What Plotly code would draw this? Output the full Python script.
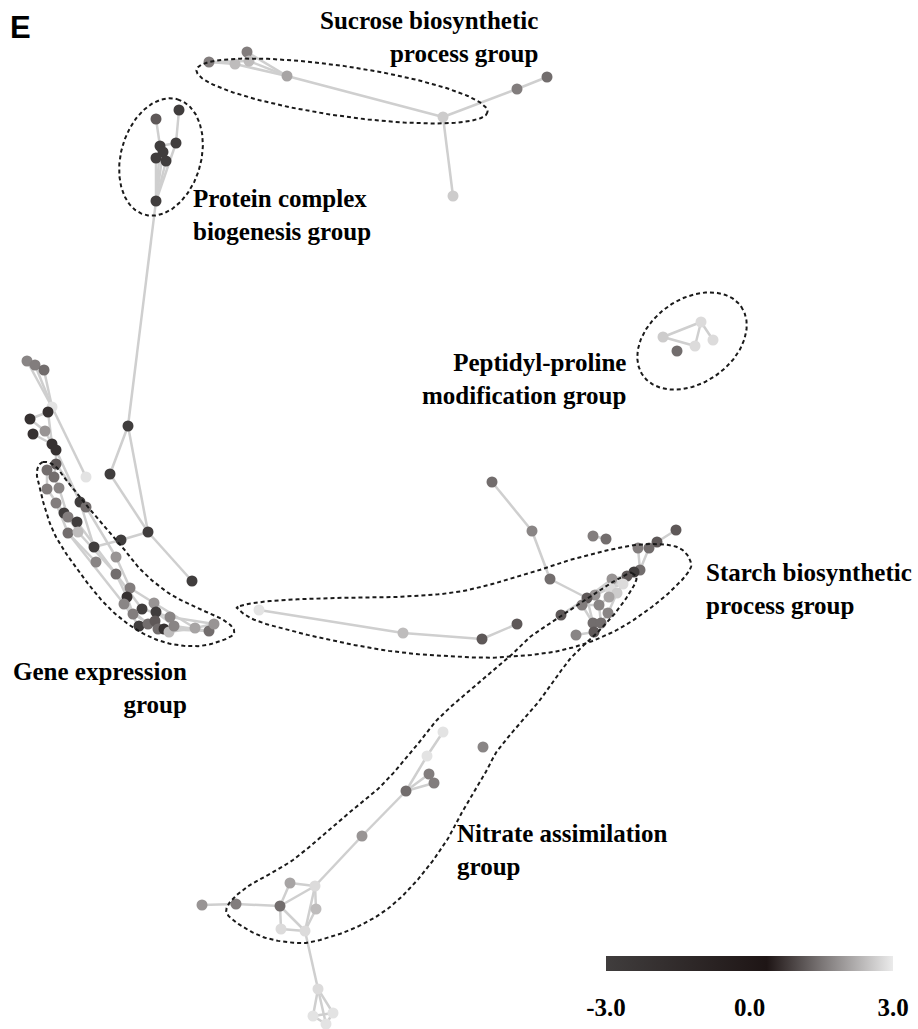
import numpy as np
import plotly.graph_objects as go

# ---------------- data ----------------
node_id = [
    # sucrose biosynthetic process group
    "s1", "s2", "s3", "s4", "s5", "s6", "s7", "s8", "s9",
    # protein complex biogenesis group
    "p1", "p2", "p3", "p4", "p5", "p6", "p7", "p8",
    # connector
    "c1", "c2", "c3", "c4", "c5", "c6",
    # gene expression group
    "g1", "g2", "g3", "g4", "g5", "g6", "g7", "g8", "g9", "g10",
    "g11", "g12", "g13", "g14", "g15", "g16", "g17", "g18", "g19", "g20",
    "g21", "g22", "g23", "g24", "g25", "g26", "g27", "g28", "g29", "g30",
    "g31", "g32", "g33", "g34", "g35", "g36", "g37", "g38", "g39", "g40",
    "g41", "g42", "g43", "g44", "g45",
    # starch biosynthetic process group
    "t1", "t2", "t3", "t4", "t5", "t6", "t7", "t8", "t9", "t10",
    "t11", "t12", "t13", "t14", "t15", "t16", "t17", "t18", "t19", "t20",
    "t21", "t22", "t23", "t24", "t25", "t26", "t27", "t28", "t29", "t30", "t31",
    # peptidyl-proline modification group
    "q1", "q2", "q3", "q4", "q5",
    # nitrate assimilation group
    "n1", "n2", "n3", "n4", "n5", "n6", "n7", "n8", "n9", "n10",
    "n11", "n12", "n13", "n14", "n15", "n16", "n17", "n18", "n19",
]

node_x = [
    209, 235, 247, 249, 287, 443, 517, 547, 453,
    179, 156, 160, 176, 163, 156, 166, 156,
    128, 110, 148, 192, 121, 94,
    27, 35, 44, 52, 48, 30, 45, 33, 52, 56,
    56, 86, 47, 54, 47, 59, 56, 80, 86, 64,
    68, 77, 68, 78, 96, 116, 116, 130, 127, 124,
    142, 133, 154, 156, 170, 139, 148, 155, 158, 164,
    169, 174, 195, 209, 214,
    492, 532, 550, 593, 606, 676, 657, 649, 638, 640,
    634, 627, 612, 623, 610, 617, 595, 587, 609, 582,
    599, 608, 561, 593, 601, 594, 576, 517, 482, 403, 259,
    663, 701, 695, 713, 677,
    443, 427, 429, 434, 406, 362, 483, 315, 290, 280,
    236, 202, 316, 281, 305, 318, 313, 333, 326,
]

node_y = [
    62, 64, 52, 61, 76, 117, 89, 77, 196,
    110, 119, 146, 143, 152, 158, 161, 201,
    426, 474, 532, 581, 540, 547,
    361, 365, 370, 407, 412, 419, 431, 434, 444, 450,
    464, 477, 470, 477, 489, 488, 503, 502, 507, 513,
    517, 522, 533, 532, 562, 557, 574, 588, 597, 604,
    609, 614, 603, 612, 617, 626, 624, 621, 629, 629,
    632, 626, 628, 631, 624,
    482, 531, 579, 536, 539, 530, 542, 548, 548, 570,
    572, 576, 579, 584, 588, 593, 595, 598, 597, 605,
    605, 613, 615, 623, 623, 632, 635, 624, 639, 633, 610,
    337, 322, 346, 340, 351,
    732, 756, 774, 783, 791, 836, 747, 886, 883, 906,
    904, 905, 909, 929, 931, 989, 1016, 1013, 1024,
]

node_value = [
    1.6, 2.4, 1.6, 2.4, 2.1, 2.6, 1.6, 1.4, 2.6,
    -3.0, 1.15, -3.0, -3.0, -3.0, -3.0, -3.0, -3.0,
    -3.0, -3.0, -3.0, -3.0, -3.0, -3.0,
    1.7, 1.6, 1.4, 2.9, -2.0, -2.0, 1.9, -2.0, -2.0, -2.0,
    1.15, 2.9, 1.4, 1.4, 1.6, 1.7, 1.6, -3.0, 1.4, -3.0,
    1.6, -3.0, 1.4, 2.4, 1.7, 1.9, 1.4, 1.6, -2.0, 1.7,
    -3.0, 1.6, 1.9, -3.0, 1.7, -3.0, 1.4, 1.15, 1.4, -2.0,
    2.4, 1.7, 2.1, 1.4, 1.9,
    1.4, 1.7, 1.4, 1.6, 1.4, 1.15, 1.15, 1.4, 1.6, 1.4,
    -3.0, 1.15, 1.9, 2.8, 2.8, 2.6, 1.9, 1.15, 2.1, 1.6,
    1.7, 1.7, 1.15, 1.4, 1.4, 1.15, 1.7, 1.15, 1.15, 2.4, 2.9,
    2.6, 2.8, 2.8, 2.8, 1.4,
    2.9, 2.9, 1.6, 1.6, 1.4, 1.9, 1.7, 2.8, 2.1, 1.4,
    1.6, 1.9, 2.4, 2.8, 2.8, 2.8, 2.9, 2.9, 2.9,
]

edge_src = [
    "s1", "s2", "s3", "s4", "s1", "s5", "s6", "s7", "s6",
    "p1", "p4", "p2", "p3", "p3", "p5", "p6", "p7",
    "p8", "c1", "c1", "c2", "c3", "c3", "c5",
    "g1", "g2", "g3", "g4", "g4", "g5", "g5", "g6", "g7", "g8", "g9", "g10",
    "g10", "g18",
    "g11", "g19", "g26", "g28", "g33", "g43",
    "g13", "g15", "g20", "g22", "g27", "g31", "g35",
    "g14", "g16", "g21", "g24",
    "g17", "g23", "g30", "g23",
    "g29", "g32", "g39",
    "g30", "g37", "g40",
    "g34", "g42", "g38", "g41", "g27", "g11",
    "t1", "t2", "t3", "t4", "t6", "t7", "t8", "t9", "t10", "t11", "t12", "t12",
    "t11", "t13", "t14", "t14", "t15", "t16", "t17", "t18", "t17", "t19", "t21",
    "t20", "t21", "t22", "t24", "t26", "t23", "t24", "t15", "t13", "t16", "t12",
    "t20", "t18", "t31", "t30", "t29",
    "q1", "q1", "q2", "q2",
    "n1", "n2", "n5", "n5", "n5", "n6", "n9", "n9", "n10", "n10", "n11", "n10",
    "n14", "n10", "n8", "n13", "n8", "n15", "n16", "n16", "n16", "n17", "n17", "n18",
]

edge_dst = [
    "s2", "s5", "s5", "s5", "s4", "s6", "s7", "s8", "s9",
    "p4", "p8", "p3", "p4", "p8", "p8", "p8", "p8",
    "c1", "c2", "c3", "c3", "c4", "c5", "c6",
    "g4", "g4", "g4", "g12", "g5", "g6", "g9", "g7", "g9", "g9", "g10", "g11",
    "g18", "c6",
    "g19", "g26", "g28", "g33", "g43", "g45",
    "g15", "g20", "g22", "g27", "g31", "g35", "g45",
    "g16", "g21", "g24", "g27",
    "g23", "g30", "g36", "g25",
    "g32", "g39", "g44",
    "g37", "g40", "g43",
    "g42", "g44", "g41", "g43", "g29", "g14",
    "t2", "t3", "t18", "t5", "t7", "t8", "t10", "t10", "t11", "t12", "t13", "t14",
    "t14", "t17", "t15", "t16", "t17", "t19", "t18", "t20", "t21", "t21", "t22",
    "t24", "t25", "t25", "t26", "t27", "t18", "t25", "t19", "t18", "t22", "t15",
    "t21", "t24", "t30", "t29", "t28",
    "q2", "q3", "q3", "q4",
    "n2", "n5", "n3", "n4", "n6", "n8", "n8", "n10", "n8", "n11", "n12", "n14",
    "n15", "n15", "n13", "n15", "n15", "n16", "n17", "n18", "n19", "n18", "n19", "n19",
]

group_labels = [
    "Sucrose biosynthetic<br>process group",
    "Protein complex<br>biogenesis group",
    "Peptidyl-proline<br>modification group",
    "Starch biosynthetic<br>process group",
    "Gene expression<br>group",
    "Nitrate assimilation<br>group",
]

color_ticks = [-3.0, 0.0, 3.0]
color_tick_text = ["-3.0", "0.0", "3.0"]

# ---------------- layout helpers (positions / styles) ----------------
W, H = 918, 1029

label_pos = [  # x, y, xanchor, align
    (539, 37, "right", "right"),
    (192, 215, "left", "left"),
    (627, 379, "right", "right"),
    (705, 589, "left", "left"),
    (188, 688, "right", "right"),
    (456, 850, "left", "left"),
]

ellipses = [  # cx, cy, a, b, angle (deg, screen coords)
    (342, 91, 147, 25, 8.24),
    (161, 157, 60, 40, -74.0),
    (692, 341, 60, 42, -35.0),
]

outlines = [
    # gene expression
    [(43, 462), (55, 466), (67, 481), (82, 500), (100, 521), (117, 540), (140, 569),
     (167, 592), (195, 607), (222, 619), (234, 630), (228, 638), (200, 646),
     (167, 643), (137, 630), (108, 607), (80, 573), (54, 533), (40, 490), (37, 471)],
    # starch
    [(240, 606), (270, 601), (330, 598), (397, 597), (463, 591), (530, 573),
     (563, 562), (613, 549), (647, 544), (677, 547), (690, 560), (687, 574),
     (657, 603), (613, 632), (563, 650), (507, 657), (463, 657), (397, 652),
     (330, 640), (263, 623), (240, 611)],
    # nitrate
    [(632, 573), (636, 581), (620, 607), (597, 633), (570, 659), (540, 700),
     (500, 747), (487, 770), (467, 803), (447, 840), (420, 877), (390, 907),
     (357, 927), (320, 940), (297, 943), (263, 937), (233, 920), (227, 907),
     (247, 887), (293, 860), (340, 820), (380, 787), (413, 750), (437, 720),
     (470, 690), (507, 659), (530, 637), (560, 617), (600, 590), (625, 575)],
]


def closed_curve(pts, n=16):
    P = np.array(pts, float)
    m = len(P)
    out = []
    for i in range(m):
        p0, p1, p2, p3 = P[(i - 1) % m], P[i], P[(i + 1) % m], P[(i + 2) % m]
        for t in np.linspace(0, 1, n, endpoint=False):
            t2, t3 = t * t, t * t * t
            out.append(0.5 * ((2 * p1) + (-p0 + p2) * t
                              + (2 * p0 - 5 * p1 + 4 * p2 - p3) * t2
                              + (-p0 + 3 * p1 - 3 * p2 + p3) * t3))
    out.append(out[0])
    return np.array(out)


def ellipse_curve(cx, cy, a, b, ang, n=240):
    t = np.linspace(0, 2 * np.pi, n)
    phi = np.radians(ang)
    x = cx + a * np.cos(t) * np.cos(phi) - b * np.sin(t) * np.sin(phi)
    y = cy + a * np.cos(t) * np.sin(phi) + b * np.sin(t) * np.cos(phi)
    return np.column_stack([x, y])


colorscale = [
    [0.0, "#403d3d"],
    [0.56, "#1e1515"],
    [0.75, "#7a7575"],
    [1.0, "#ebebeb"],
]

idx = {k: i for i, k in enumerate(node_id)}

ex, ey = [], []
for a, b in zip(edge_src, edge_dst):
    ex += [node_x[idx[a]], node_x[idx[b]], None]
    ey += [node_y[idx[a]], node_y[idx[b]], None]

fig = go.Figure()
fig.add_trace(go.Scatter(x=ex, y=ey, mode="lines",
                         line=dict(color="#cfcfcf", width=2.5),
                         hoverinfo="skip", showlegend=False))

fig.add_trace(go.Scatter(
    x=node_x, y=node_y, mode="markers", text=node_id, showlegend=False,
    marker=dict(size=11, color=node_value, colorscale=colorscale,
                cmin=-3, cmax=3, line=dict(width=0), showscale=True,
                colorbar=dict(orientation="h", x=749.5 / W, xanchor="center",
                              y=1 - 956 / H, yanchor="top",
                              len=287, lenmode="pixels", thickness=15,
                              thicknessmode="pixels", outlinewidth=0,
                              xpad=0, ypad=0,
                              ticks="outside", ticklen=15,
                              tickcolor="rgba(0,0,0,0)",
                              tickvals=color_ticks, ticktext=color_tick_text,
                              tickfont=dict(family="Liberation Serif", size=25,
                                            color="black", weight="bold")))))

for el in ellipses:
    c = ellipse_curve(*el)
    fig.add_trace(go.Scatter(x=c[:, 0], y=c[:, 1], mode="lines",
                             line=dict(color="#1a1a1a", width=2, dash="4px,3px"),
                             hoverinfo="skip", showlegend=False))
for ol in outlines:
    c = closed_curve(ol)
    fig.add_trace(go.Scatter(x=c[:, 0], y=c[:, 1], mode="lines",
                             line=dict(color="#1a1a1a", width=2, dash="4px,3px"),
                             hoverinfo="skip", showlegend=False))

for txt, (x, y, xa, al) in zip(group_labels, label_pos):
    fig.add_annotation(x=x, y=y, xref="x", yref="y", text=txt, showarrow=False,
                       xanchor=xa, yanchor="middle", align=al, borderpad=0,
                       font=dict(family="Liberation Serif", size=25,
                                 color="black", weight="bold"))

fig.add_annotation(x=9, y=27, xref="x", yref="y", text="E", showarrow=False,
                   xanchor="left", yanchor="middle", borderpad=0,
                   font=dict(family="Liberation Sans", size=31, color="black",
                             weight="bold"))

fig.update_layout(
    width=W, height=H, margin=dict(l=0, r=0, t=0, b=0),
    paper_bgcolor="white", plot_bgcolor="white",
    xaxis=dict(range=[0, W], visible=False, fixedrange=True),
    yaxis=dict(range=[H, 0], visible=False, fixedrange=True),
)

fig.write_html("out.html",
               config={"displayModeBar": False},
               post_script="document.body.style.margin='0px';"
                           "document.body.style.overflow='hidden';")
